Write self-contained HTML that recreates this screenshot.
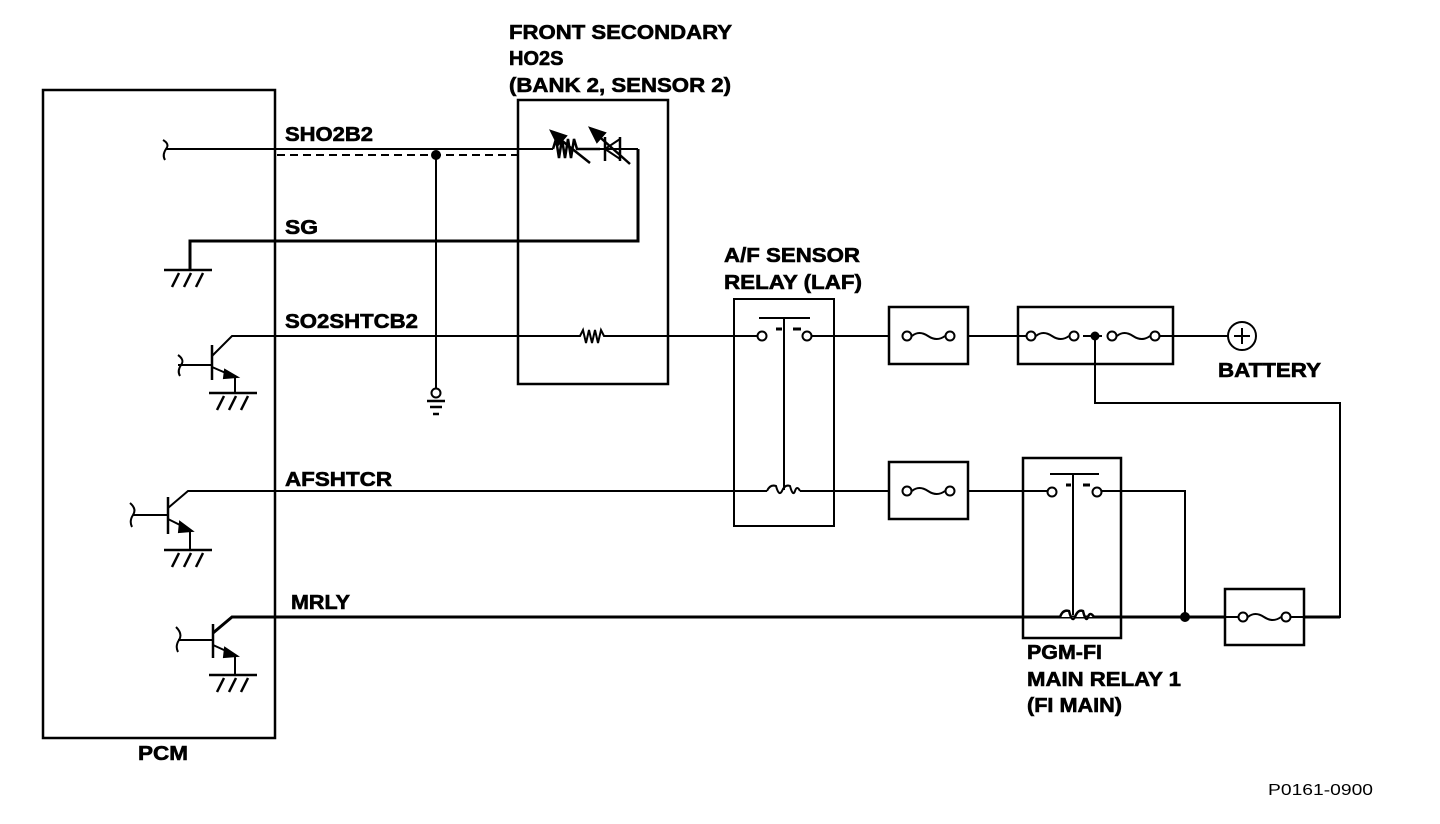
<!DOCTYPE html>
<html><head><meta charset="utf-8"><style>
html,body{margin:0;padding:0;background:#fff;}
svg{display:block}
text{font-family:"Liberation Sans",Arial,sans-serif;font-weight:bold;font-size:20px;fill:#000;stroke:#000;stroke-width:0.6}
</style></head><body>
<svg width="1440" height="824" viewBox="0 0 1440 824" xmlns="http://www.w3.org/2000/svg">
<defs>
<g id="fuse"><circle cx="0" cy="0" r="4.5" fill="#fff" stroke="#000" stroke-width="2"/><path d="M5 0 Q12 -6 21 0 T38 0" fill="none" stroke="#000" stroke-width="2"/><circle cx="43" cy="0" r="4.5" fill="#fff" stroke="#000" stroke-width="2"/></g>
<g id="gnd" stroke="#000" stroke-width="2.5" fill="none"><line x1="-24" y1="0" x2="24" y2="0"/><line x1="-16" y1="17" x2="-9" y2="3"/><line x1="-4" y1="17" x2="3" y2="3"/><line x1="8" y1="17" x2="15" y2="3"/></g>
</defs>
<g fill="none" stroke="#000" stroke-width="2">
<rect x="43" y="90" width="232" height="648" stroke-width="2.5"/>
<rect x="518" y="100" width="150" height="284" stroke-width="2.5"/>
<path d="M163 140 Q170 144 166 149 Q162 155 165 160"/>
<line x1="166" y1="149" x2="553" y2="149"/>
<line x1="277" y1="155" x2="518" y2="155" stroke-dasharray="8,5"/>
<line x1="436" y1="155" x2="436" y2="389"/>
<circle cx="436" cy="155" r="4" fill="#000"/>
<circle cx="436" cy="393" r="4.5" fill="#fff"/>
<line x1="427" y1="401" x2="445" y2="401" stroke-width="2.5"/>
<line x1="430" y1="407" x2="442" y2="407" stroke-width="2.5"/>
<line x1="433" y1="414" x2="439" y2="414" stroke-width="2.5"/>
<path d="M553 149 L556 139 L559 158 L562 139 L565 158 L568 139 L571 158 L574 139 L577 149 L600 149" stroke-width="2.5"/>
<line x1="556" y1="136" x2="590" y2="163" stroke-width="2.5"/>
<path d="M551 131 L566 136 L558 145 Z" fill="#000"/>
<line x1="600" y1="149" x2="638" y2="149"/>
<line x1="605" y1="137" x2="605" y2="161" stroke-width="2.5"/>
<path d="M605 149 L620 139 L620 159 Z" stroke-width="2"/>
<line x1="620" y1="137" x2="620" y2="161" stroke-width="2.5"/>
<line x1="594" y1="132" x2="630" y2="164" stroke-width="2.5"/>
<path d="M590 128 L605 133 L597 142 Z" fill="#000"/>
<polyline points="638,149 638,241 190,241 190,270" stroke-width="3"/>
<polyline points="212,356 232,336 580,336 583,330 586,343 589,330 592,343 595,330 598,343 601,330 604,336 668,336"/>
<polyline points="168,508 188,491 767,491"/>
<polyline points="213,633 232,617 1225,617" stroke-width="3"/>
<line x1="1304" y1="617" x2="1340" y2="617" stroke-width="3"/>
<g>
<line x1="212" y1="345" x2="212" y2="380" stroke-width="2.5"/>
<line x1="178" y1="365" x2="212" y2="365"/>
<path d="M178 355 Q185 360 181 365 Q177 371 180 376"/>
<line x1="212" y1="367" x2="235" y2="377"/>
<path d="M225 370 L237 377 L224 378 Z" fill="#000"/>
<polyline points="235,377 235,393"/>
</g>
<g>
<line x1="168" y1="497" x2="168" y2="534" stroke-width="2.5"/>
<line x1="133" y1="515" x2="168" y2="515"/>
<path d="M130 503 Q137 509 133 515 Q129 521 132 527"/>
<line x1="168" y1="519" x2="190" y2="530"/>
<path d="M180 522 L192 531 L179 532 Z" fill="#000"/>
<polyline points="190,530 190,550"/>
</g>
<g>
<line x1="213" y1="624" x2="213" y2="658" stroke-width="2.5"/>
<line x1="178" y1="640" x2="213" y2="640"/>
<path d="M176 627 Q183 634 179 640 Q175 646 178 652"/>
<line x1="213" y1="645" x2="235" y2="655"/>
<path d="M225 648 L237 656 L224 657 Z" fill="#000"/>
<polyline points="235,655 235,675"/>
</g>
<rect x="734" y="299" width="100" height="227"/>
<line x1="668" y1="336" x2="757" y2="336"/>
<circle cx="762" cy="336" r="4.5" fill="#fff"/>
<circle cx="807" cy="336" r="4.5" fill="#fff"/>
<line x1="812" y1="336" x2="889" y2="336"/>
<line x1="759" y1="318" x2="810" y2="318"/>
<line x1="776" y1="329" x2="782" y2="329" stroke-width="3"/>
<line x1="793" y1="329" x2="801" y2="329" stroke-width="3"/>
<line x1="784" y1="318" x2="784" y2="490"/>
<path d="M767 491 Q770 484 776 486 Q779 497 782 491 Q785 484 790 486 Q793 497 795 491 Q797 485 800 491"/>
<line x1="800" y1="491" x2="889" y2="491"/>
<rect x="889" y="307" width="79" height="57" stroke-width="2.5"/>
<rect x="1018" y="307" width="155" height="57" stroke-width="2.5"/>
<rect x="889" y="462" width="79" height="57" stroke-width="2.5"/>
<rect x="1225" y="589" width="79" height="56" stroke-width="2.5"/>
<line x1="968" y1="336" x2="1026" y2="336"/>
<line x1="1083" y1="336" x2="1102" y2="336"/>
<line x1="1160" y1="336" x2="1228" y2="336"/>
<polyline points="1095,336 1095,403 1340,403 1340,618"/>
<line x1="968" y1="491" x2="1047" y2="491"/>
<rect x="1023" y="458" width="98" height="180" stroke-width="2.5"/>
<circle cx="1052" cy="492" r="4.5" fill="#fff"/>
<circle cx="1097" cy="492" r="4.5" fill="#fff"/>
<line x1="1050" y1="474" x2="1099" y2="474"/>
<line x1="1066" y1="485" x2="1071" y2="485" stroke-width="3"/>
<line x1="1083" y1="485" x2="1090" y2="485" stroke-width="3"/>
<line x1="1073" y1="474" x2="1073" y2="615"/>
<path d="M1060 617 Q1063 609 1069 611 Q1072 623 1075 617 Q1078 609 1083 611 Q1086 623 1088 617 Q1090 611 1094 617" stroke-width="2.5" fill="#fff"/>
<polyline points="1102,491 1185,491 1185,617"/>
<circle cx="1185" cy="617" r="4" fill="#000"/>
<circle cx="1242" cy="336" r="14"/>
<line x1="1242" y1="328" x2="1242" y2="344"/>
<line x1="1234" y1="336" x2="1250" y2="336"/>
</g>
<use href="#fuse" x="907" y="336"/>
<use href="#fuse" x="1031" y="336"/>
<use href="#fuse" x="1112" y="336"/>
<circle cx="1095" cy="336" r="4.5" fill="#000"/>
<use href="#fuse" x="907" y="491"/>
<use href="#fuse" x="1243" y="617"/>
<line x1="1304" y1="617" x2="1290" y2="617" stroke="#000" stroke-width="2"/>
<line x1="1225" y1="617" x2="1238" y2="617" stroke="#000" stroke-width="2"/>
<use href="#gnd" x="188" y="270"/>
<use href="#gnd" x="233" y="393"/>
<use href="#gnd" x="188" y="550"/>
<use href="#gnd" x="233" y="675"/>
<text x="509" y="39" textLength="223" lengthAdjust="spacingAndGlyphs">FRONT SECONDARY</text>
<text x="509" y="65">HO2S</text>
<text x="509" y="92" textLength="222" lengthAdjust="spacingAndGlyphs">(BANK 2, SENSOR 2)</text>
<text x="285" y="141" textLength="88" lengthAdjust="spacingAndGlyphs">SHO2B2</text>
<text x="285" y="234" textLength="33" lengthAdjust="spacingAndGlyphs">SG</text>
<text x="285" y="328" textLength="133" lengthAdjust="spacingAndGlyphs">SO2SHTCB2</text>
<text x="285" y="486" textLength="107" lengthAdjust="spacingAndGlyphs">AFSHTCR</text>
<text x="291" y="609" textLength="59" lengthAdjust="spacingAndGlyphs">MRLY</text>
<text x="724" y="262" textLength="136" lengthAdjust="spacingAndGlyphs">A/F SENSOR</text>
<text x="724" y="289" textLength="138" lengthAdjust="spacingAndGlyphs">RELAY (LAF)</text>
<text x="1218" y="377" textLength="103" lengthAdjust="spacingAndGlyphs">BATTERY</text>
<text x="1027" y="659" textLength="75" lengthAdjust="spacingAndGlyphs">PGM-FI</text>
<text x="1027" y="686" textLength="154" lengthAdjust="spacingAndGlyphs">MAIN RELAY 1</text>
<text x="1027" y="712" textLength="95" lengthAdjust="spacingAndGlyphs">(FI MAIN)</text>
<text x="138" y="760" textLength="50" lengthAdjust="spacingAndGlyphs">PCM</text>
<text x="1268" y="795" textLength="105" lengthAdjust="spacingAndGlyphs" style="font-weight:normal;font-size:16px;stroke-width:0">P0161-0900</text>
</svg>
</body></html>
